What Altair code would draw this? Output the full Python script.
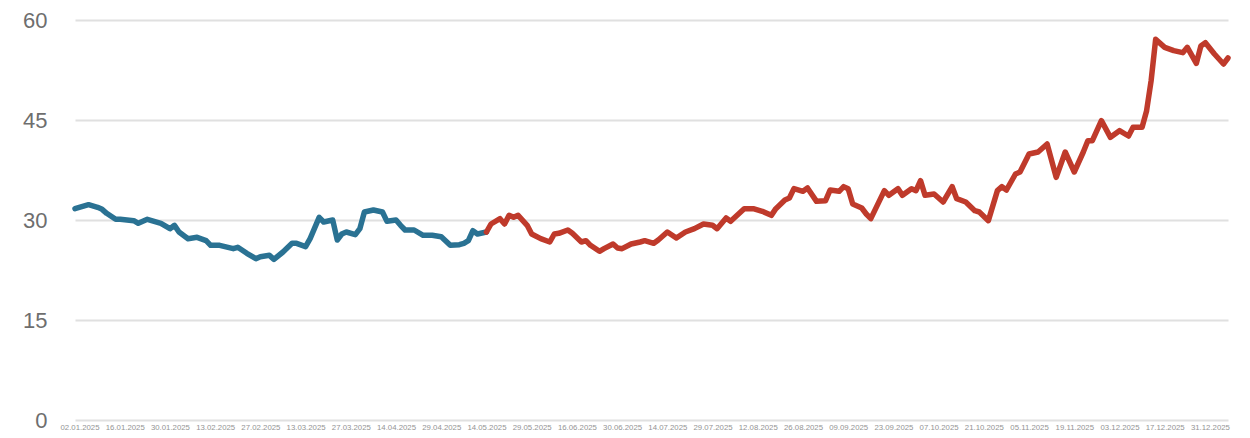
import altair as alt
import pandas as pd

# Tick labels (every 10th trading day)
date_labels = ["02.01.2025", "16.01.2025", "30.01.2025", "13.02.2025", "27.02.2025",
               "13.03.2025", "27.03.2025", "14.04.2025", "29.04.2025", "14.05.2025",
               "29.05.2025", "16.06.2025", "30.06.2025", "14.07.2025", "29.07.2025",
               "12.08.2025", "26.08.2025", "09.09.2025", "23.09.2025", "07.10.2025",
               "21.10.2025", "05.11.2025", "19.11.2025", "03.12.2025", "17.12.2025",
               "31.12.2025"]
label_idx = [1 + 10 * k for k in range(len(date_labels))]

# First segment (blue), trading-day index and value
blue_idx = [0, 3, 5, 6, 7, 9, 10, 13, 14, 16, 19, 21, 22, 23, 25, 27, 29, 30, 32, 35,
            36, 38, 40, 41, 43, 44, 46, 48, 49, 51, 52, 54, 55, 57, 58, 59, 60, 62, 63, 64,
            66, 68, 69, 71, 72, 73, 75, 77, 79, 81, 83, 85, 86, 87, 88, 89, 91]
blue_val = [31.7, 32.3, 31.9, 31.6, 31.0, 30.1, 30.1, 29.9, 29.5, 30.1, 29.5, 28.7, 29.2, 28.2,
            27.2, 27.4, 26.9, 26.2, 26.2, 25.7, 25.9, 25.0, 24.2, 24.5, 24.7, 24.1, 25.2, 26.5,
            26.5, 26.0, 27.2, 30.4, 29.7, 30.0, 27.0, 27.9, 28.2, 27.8, 28.7, 31.2, 31.5, 31.2,
            29.8, 30.0, 29.2, 28.5, 28.5, 27.7, 27.7, 27.5, 26.2, 26.3, 26.5, 26.9, 28.4, 27.9,
            28.2]

# Second segment (red)
red_idx = [91, 92, 94, 95, 96, 97, 98, 100, 101, 103, 105, 106, 107, 109, 110, 112, 113, 114,
           116, 117, 119, 120, 121, 123, 125, 126, 128, 129, 131, 133, 135, 137, 139, 141, 142,
           144, 145, 148, 150, 152, 154, 155, 157, 158, 159, 161, 162, 164, 166, 167, 169, 170,
           171, 172, 174, 175, 176, 179, 180, 182, 183, 185, 186, 187, 188, 190, 192, 194, 195,
           197, 199, 200, 202, 204, 205, 206, 208, 209, 211, 213, 215, 217, 219, 221, 223, 224,
           225, 227, 229, 231, 233, 234, 236, 237, 238, 239, 241, 243, 245, 246, 248, 249, 250,
           252, 254, 255]
red_val = [28.2, 29.4, 30.2, 29.4, 30.7, 30.4, 30.7, 29.2, 27.9, 27.2, 26.7, 27.9, 28.0, 28.5,
           28.0, 26.7, 26.9, 26.2, 25.3, 25.7, 26.4, 25.8, 25.7, 26.4, 26.7, 26.9, 26.5, 27.0,
           28.2, 27.3, 28.2, 28.7, 29.4, 29.2, 28.7, 30.3, 29.8, 31.7, 31.7, 31.3, 30.7, 31.7,
           33.0, 33.3, 34.7, 34.3, 34.8, 32.8, 32.9, 34.5, 34.3, 35.0, 34.7, 32.4, 31.8, 30.9,
           30.2, 34.4, 33.7, 34.7, 33.7, 34.7, 34.4, 35.9, 33.7, 33.9, 32.7, 35.0, 33.2, 32.7,
           31.4, 31.2, 29.9, 34.4, 35.0, 34.5, 36.9, 37.2, 39.9, 40.2, 41.4, 36.4, 40.2, 37.2,
           40.2, 41.9, 41.9, 44.9, 42.4, 43.4, 42.6, 43.9, 43.9, 46.4, 50.9, 57.1, 55.9, 55.4,
           55.1, 55.9, 53.5, 56.1, 56.6, 54.9, 53.4, 54.3]

series_names = ["A", "B"]
series_colors = ["#2a7293", "#bf3a2b"]
y_ticks = [0, 15, 30, 45, 60]

df = pd.concat([
    pd.DataFrame({"idx": blue_idx, "value": blue_val, "series": series_names[0]}),
    pd.DataFrame({"idx": red_idx, "value": red_val, "series": series_names[1]}),
])

arr = "[" + ",".join("'" + s + "'" for s in date_labels) + "]"
label_expr = f"{arr}[round((datum.value - 1) / 10)]"

chart = alt.Chart(df).mark_line(strokeWidth=5.5, strokeCap="round", strokeJoin="round").encode(
    x=alt.X("idx:Q",
            scale=alt.Scale(domain=[0, 255], nice=False, zero=False),
            axis=alt.Axis(values=label_idx, labelExpr=label_expr, title=None, grid=False,
                          ticks=False, domain=False, labelFontSize=7.8, labelColor="#949494",
                          labelPadding=3, labelFont="Liberation Sans", labelOverlap=False,
                          labelFlush=False)),
    y=alt.Y("value:Q",
            scale=alt.Scale(domain=[0, 60], nice=False),
            axis=alt.Axis(values=y_ticks, title=None, grid=True, gridColor="#e0e0e0",
                          gridWidth=2, ticks=False, domain=False, labelFontSize=22,
                          labelColor="#6e6e6e", labelPadding=28, labelFont="Liberation Sans")),
    color=alt.Color("series:N", scale=alt.Scale(domain=series_names, range=series_colors),
                    legend=None),
    detail="series:N",
).properties(
    width=1153, height=400,
    autosize=alt.AutoSizeParams(type="none"),
    padding={"left": 67, "top": 12, "right": 10, "bottom": 18},
    background="white",
).configure_view(stroke=None)

chart.save("out.html", embed_options={"renderer": "svg", "actions": False})
